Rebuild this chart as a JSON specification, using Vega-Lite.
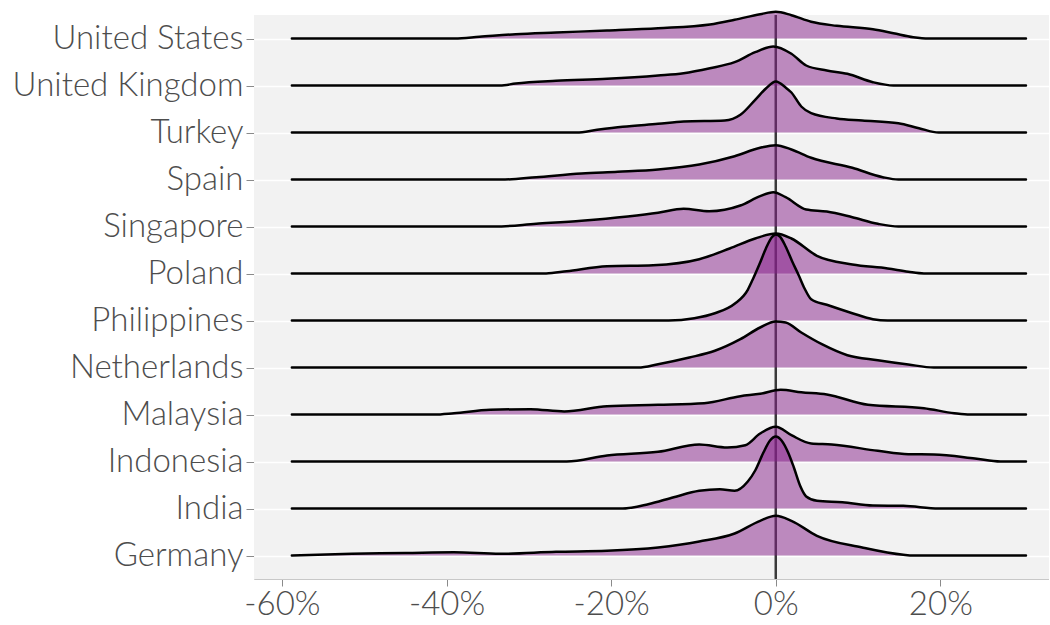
{
  "$schema": "https://vega.github.io/schema/vega-lite/v6.json",
  "bounds": "flush",
  "padding": {"left": 12, "top": 6, "right": 0, "bottom": 0},
  "datasets": {
    "ridges": [
      {"country": "United States", "x": -58.8, "d": 0}, {"country": "United States", "x": -39, "d": 0}, {"country": "United States", "x": -36, "d": 0.017}, {"country": "United States", "x": -31.6, "d": 0.043}, {"country": "United States", "x": -26.7, "d": 0.06}, {"country": "United States", "x": -20.5, "d": 0.08}, {"country": "United States", "x": -14.3, "d": 0.103}, {"country": "United States", "x": -8, "d": 0.14}, {"country": "United States", "x": -5, "d": 0.187}, {"country": "United States", "x": -1.9, "d": 0.243}, {"country": "United States", "x": 0, "d": 0.267}, {"country": "United States", "x": 1.9, "d": 0.233}, {"country": "United States", "x": 4.3, "d": 0.167}, {"country": "United States", "x": 7.4, "d": 0.127}, {"country": "United States", "x": 11.8, "d": 0.093}, {"country": "United States", "x": 14.3, "d": 0.053}, {"country": "United States", "x": 16.7, "d": 0.013}, {"country": "United States", "x": 18.6, "d": 0}, {"country": "United States", "x": 30.4, "d": 0},
      {"country": "United Kingdom", "x": -58.8, "d": 0}, {"country": "United Kingdom", "x": -33.5, "d": 0}, {"country": "United Kingdom", "x": -31.6, "d": 0.02}, {"country": "United Kingdom", "x": -26.7, "d": 0.047}, {"country": "United Kingdom", "x": -20.5, "d": 0.067}, {"country": "United Kingdom", "x": -14.3, "d": 0.1}, {"country": "United Kingdom", "x": -11.2, "d": 0.123}, {"country": "United Kingdom", "x": -8, "d": 0.173}, {"country": "United Kingdom", "x": -5, "d": 0.233}, {"country": "United Kingdom", "x": -2.5, "d": 0.333}, {"country": "United Kingdom", "x": -0.3, "d": 0.39}, {"country": "United Kingdom", "x": 1.9, "d": 0.317}, {"country": "United Kingdom", "x": 3.7, "d": 0.2}, {"country": "United Kingdom", "x": 6.2, "d": 0.15}, {"country": "United Kingdom", "x": 8.7, "d": 0.117}, {"country": "United Kingdom", "x": 11.8, "d": 0.033}, {"country": "United Kingdom", "x": 14.3, "d": 0}, {"country": "United Kingdom", "x": 30.4, "d": 0},
      {"country": "Turkey", "x": -58.8, "d": 0}, {"country": "Turkey", "x": -24.2, "d": 0}, {"country": "Turkey", "x": -21.7, "d": 0.027}, {"country": "Turkey", "x": -18.6, "d": 0.057}, {"country": "Turkey", "x": -14.3, "d": 0.087}, {"country": "Turkey", "x": -11.2, "d": 0.11}, {"country": "Turkey", "x": -6.2, "d": 0.12}, {"country": "Turkey", "x": -4.3, "d": 0.177}, {"country": "Turkey", "x": -2.5, "d": 0.327}, {"country": "Turkey", "x": -1.2, "d": 0.44}, {"country": "Turkey", "x": 0, "d": 0.51}, {"country": "Turkey", "x": 1.2, "d": 0.45}, {"country": "Turkey", "x": 1.9, "d": 0.4}, {"country": "Turkey", "x": 3.1, "d": 0.26}, {"country": "Turkey", "x": 4.3, "d": 0.193}, {"country": "Turkey", "x": 7.4, "d": 0.14}, {"country": "Turkey", "x": 10.5, "d": 0.12}, {"country": "Turkey", "x": 14.9, "d": 0.093}, {"country": "Turkey", "x": 17.4, "d": 0.043}, {"country": "Turkey", "x": 19.8, "d": 0}, {"country": "Turkey", "x": 30.4, "d": 0},
      {"country": "Spain", "x": -58.8, "d": 0}, {"country": "Spain", "x": -32.9, "d": 0}, {"country": "Spain", "x": -29.1, "d": 0.023}, {"country": "Spain", "x": -23.6, "d": 0.06}, {"country": "Spain", "x": -19.2, "d": 0.077}, {"country": "Spain", "x": -14.3, "d": 0.1}, {"country": "Spain", "x": -9.3, "d": 0.15}, {"country": "Spain", "x": -5, "d": 0.233}, {"country": "Spain", "x": -1.9, "d": 0.317}, {"country": "Spain", "x": 0, "d": 0.343}, {"country": "Spain", "x": 1.9, "d": 0.3}, {"country": "Spain", "x": 4.3, "d": 0.217}, {"country": "Spain", "x": 9.3, "d": 0.117}, {"country": "Spain", "x": 13, "d": 0.023}, {"country": "Spain", "x": 14.9, "d": 0}, {"country": "Spain", "x": 30.4, "d": 0},
      {"country": "Singapore", "x": -58.8, "d": 0}, {"country": "Singapore", "x": -34.1, "d": 0}, {"country": "Singapore", "x": -29.1, "d": 0.027}, {"country": "Singapore", "x": -23.6, "d": 0.057}, {"country": "Singapore", "x": -18, "d": 0.1}, {"country": "Singapore", "x": -14.3, "d": 0.137}, {"country": "Singapore", "x": -11.2, "d": 0.177}, {"country": "Singapore", "x": -8.1, "d": 0.153}, {"country": "Singapore", "x": -4.3, "d": 0.21}, {"country": "Singapore", "x": -1.9, "d": 0.303}, {"country": "Singapore", "x": -0.3, "d": 0.343}, {"country": "Singapore", "x": 1.2, "d": 0.293}, {"country": "Singapore", "x": 3.7, "d": 0.17}, {"country": "Singapore", "x": 6.2, "d": 0.15}, {"country": "Singapore", "x": 9.3, "d": 0.093}, {"country": "Singapore", "x": 12.4, "d": 0.027}, {"country": "Singapore", "x": 14.9, "d": 0}, {"country": "Singapore", "x": 30.4, "d": 0},
      {"country": "Poland", "x": -58.8, "d": 0}, {"country": "Poland", "x": -27.9, "d": 0}, {"country": "Poland", "x": -25.4, "d": 0.023}, {"country": "Poland", "x": -20.5, "d": 0.073}, {"country": "Poland", "x": -14.9, "d": 0.083}, {"country": "Poland", "x": -9.3, "d": 0.143}, {"country": "Poland", "x": -5.6, "d": 0.25}, {"country": "Poland", "x": -2.5, "d": 0.35}, {"country": "Poland", "x": 0, "d": 0.4}, {"country": "Poland", "x": 1.9, "d": 0.35}, {"country": "Poland", "x": 5, "d": 0.177}, {"country": "Poland", "x": 9.3, "d": 0.09}, {"country": "Poland", "x": 13.6, "d": 0.05}, {"country": "Poland", "x": 16.1, "d": 0.017}, {"country": "Poland", "x": 18, "d": 0}, {"country": "Poland", "x": 30.4, "d": 0},
      {"country": "Philippines", "x": -58.8, "d": 0}, {"country": "Philippines", "x": -13, "d": 0}, {"country": "Philippines", "x": -9.9, "d": 0.023}, {"country": "Philippines", "x": -7.4, "d": 0.073}, {"country": "Philippines", "x": -5, "d": 0.167}, {"country": "Philippines", "x": -3.4, "d": 0.307}, {"country": "Philippines", "x": -2.8, "d": 0.41}, {"country": "Philippines", "x": -2, "d": 0.56}, {"country": "Philippines", "x": -1.2, "d": 0.72}, {"country": "Philippines", "x": -0.5, "d": 0.83}, {"country": "Philippines", "x": 0, "d": 0.86}, {"country": "Philippines", "x": 0.5, "d": 0.84}, {"country": "Philippines", "x": 1.2, "d": 0.74}, {"country": "Philippines", "x": 2, "d": 0.59}, {"country": "Philippines", "x": 2.8, "d": 0.45}, {"country": "Philippines", "x": 3.5, "d": 0.32}, {"country": "Philippines", "x": 4.3, "d": 0.213}, {"country": "Philippines", "x": 6.2, "d": 0.157}, {"country": "Philippines", "x": 9.3, "d": 0.073}, {"country": "Philippines", "x": 11.8, "d": 0.013}, {"country": "Philippines", "x": 13.6, "d": 0}, {"country": "Philippines", "x": 30.4, "d": 0},
      {"country": "Netherlands", "x": -58.8, "d": 0}, {"country": "Netherlands", "x": -16.7, "d": 0}, {"country": "Netherlands", "x": -14.3, "d": 0.033}, {"country": "Netherlands", "x": -10.5, "d": 0.1}, {"country": "Netherlands", "x": -7.4, "d": 0.167}, {"country": "Netherlands", "x": -4.3, "d": 0.283}, {"country": "Netherlands", "x": -1.9, "d": 0.4}, {"country": "Netherlands", "x": 0, "d": 0.46}, {"country": "Netherlands", "x": 1.2, "d": 0.45}, {"country": "Netherlands", "x": 3.1, "d": 0.35}, {"country": "Netherlands", "x": 5.6, "d": 0.233}, {"country": "Netherlands", "x": 8.7, "d": 0.123}, {"country": "Netherlands", "x": 12.4, "d": 0.073}, {"country": "Netherlands", "x": 16.1, "d": 0.03}, {"country": "Netherlands", "x": 19.2, "d": 0}, {"country": "Netherlands", "x": 30.4, "d": 0},
      {"country": "Malaysia", "x": -58.8, "d": 0}, {"country": "Malaysia", "x": -41.5, "d": 0}, {"country": "Malaysia", "x": -39.1, "d": 0.013}, {"country": "Malaysia", "x": -34.7, "d": 0.047}, {"country": "Malaysia", "x": -29.8, "d": 0.053}, {"country": "Malaysia", "x": -25.7, "d": 0.03}, {"country": "Malaysia", "x": -20.5, "d": 0.083}, {"country": "Malaysia", "x": -14.3, "d": 0.097}, {"country": "Malaysia", "x": -8.7, "d": 0.113}, {"country": "Malaysia", "x": -4.3, "d": 0.183}, {"country": "Malaysia", "x": -1.9, "d": 0.207}, {"country": "Malaysia", "x": 0.6, "d": 0.247}, {"country": "Malaysia", "x": 3.1, "d": 0.223}, {"country": "Malaysia", "x": 6.2, "d": 0.2}, {"country": "Malaysia", "x": 11.2, "d": 0.097}, {"country": "Malaysia", "x": 18, "d": 0.063}, {"country": "Malaysia", "x": 21.7, "d": 0.013}, {"country": "Malaysia", "x": 23.6, "d": 0}, {"country": "Malaysia", "x": 30.4, "d": 0},
      {"country": "Indonesia", "x": -58.8, "d": 0}, {"country": "Indonesia", "x": -25.4, "d": 0}, {"country": "Indonesia", "x": -20.5, "d": 0.06}, {"country": "Indonesia", "x": -14.3, "d": 0.097}, {"country": "Indonesia", "x": -9.3, "d": 0.17}, {"country": "Indonesia", "x": -5.9, "d": 0.14}, {"country": "Indonesia", "x": -3.7, "d": 0.163}, {"country": "Indonesia", "x": -1.9, "d": 0.28}, {"country": "Indonesia", "x": 0, "d": 0.347}, {"country": "Indonesia", "x": 1.9, "d": 0.263}, {"country": "Indonesia", "x": 4.3, "d": 0.18}, {"country": "Indonesia", "x": 6.8, "d": 0.17}, {"country": "Indonesia", "x": 12.4, "d": 0.107}, {"country": "Indonesia", "x": 16.1, "d": 0.073}, {"country": "Indonesia", "x": 19.2, "d": 0.07}, {"country": "Indonesia", "x": 24.2, "d": 0.03}, {"country": "Indonesia", "x": 27.3, "d": 0}, {"country": "Indonesia", "x": 30.4, "d": 0},
      {"country": "India", "x": -58.8, "d": 0}, {"country": "India", "x": -18.6, "d": 0}, {"country": "India", "x": -15.5, "d": 0.043}, {"country": "India", "x": -12.4, "d": 0.113}, {"country": "India", "x": -9.3, "d": 0.177}, {"country": "India", "x": -6.8, "d": 0.193}, {"country": "India", "x": -5, "d": 0.177}, {"country": "India", "x": -3.4, "d": 0.27}, {"country": "India", "x": -2.5, "d": 0.38}, {"country": "India", "x": -1.5, "d": 0.56}, {"country": "India", "x": -0.7, "d": 0.68}, {"country": "India", "x": 0, "d": 0.72}, {"country": "India", "x": 0.7, "d": 0.68}, {"country": "India", "x": 1.5, "d": 0.56}, {"country": "India", "x": 2.2, "d": 0.41}, {"country": "India", "x": 3, "d": 0.22}, {"country": "India", "x": 3.7, "d": 0.12}, {"country": "India", "x": 5, "d": 0.077}, {"country": "India", "x": 8.1, "d": 0.063}, {"country": "India", "x": 11.8, "d": 0.03}, {"country": "India", "x": 15.5, "d": 0.027}, {"country": "India", "x": 19.8, "d": 0}, {"country": "India", "x": 30.4, "d": 0},
      {"country": "Germany", "x": -58.8, "d": 0}, {"country": "Germany", "x": -51.5, "d": 0.017}, {"country": "Germany", "x": -45, "d": 0.025}, {"country": "Germany", "x": -39.1, "d": 0.033}, {"country": "Germany", "x": -33.5, "d": 0.017}, {"country": "Germany", "x": -26.7, "d": 0.037}, {"country": "Germany", "x": -20.5, "d": 0.047}, {"country": "Germany", "x": -14.3, "d": 0.08}, {"country": "Germany", "x": -9.3, "d": 0.14}, {"country": "Germany", "x": -5, "d": 0.22}, {"country": "Germany", "x": -1.9, "d": 0.347}, {"country": "Germany", "x": 0, "d": 0.397}, {"country": "Germany", "x": 1.9, "d": 0.347}, {"country": "Germany", "x": 5, "d": 0.197}, {"country": "Germany", "x": 10.5, "d": 0.08}, {"country": "Germany", "x": 15.5, "d": 0.007}, {"country": "Germany", "x": 16.7, "d": 0}, {"country": "Germany", "x": 30.4, "d": 0}
    ]
  },
  "data": {"name": "ridges"},
  "facet": {
    "row": {
      "field": "country", "type": "nominal", "sort": "descending", "title": null,
      "header": {"labelAngle": 0, "labelAlign": "left", "labelFont": "Lato", "labelFontSize": 33, "labelFontWeight": 300, "labelColor": "#4d4d4d", "labelPadding": 2}
    }
  },
  "spacing": {"row": 0},
  "spec": {
    "width": 795,
    "height": 47,
    "layer": [
      {
        "transform": [{"aggregate": [{"op": "count", "as": "n"}], "groupby": ["country"]}],
        "mark": {"type": "rule", "color": "#3a3a3a", "strokeWidth": 2.5},
        "encoding": {"x": {"datum": 0}}
      },
      {
        "mark": {"type": "area", "interpolate": "monotone", "fill": "#86208a", "fillOpacity": 0.5},
        "encoding": {
          "x": {
            "field": "x", "type": "quantitative",
            "scale": {"domain": [-63.4, 33.2], "nice": false, "zero": false},
            "axis": {
              "title": null,
              "values": [-60, -50, -40, -30, -20, -10, 0, 10, 20, 30],
              "labelExpr": "datum.value % 20 === 0 ? datum.value + '%' : ''",
              "labelFont": "Lato", "labelFontSize": 33, "labelFontWeight": 300, "labelColor": "#4d4d4d",
              "labelPadding": 2, "labelFlush": false, "labelOverlap": false,
              "tickSize": 7, "tickColor": "#8a8a8a",
              "tickOpacity": {"condition": {"test": "datum.value % 20 !== 0", "value": 0}, "value": 1},
              "gridColor": "#ffffff",
              "gridWidth": {"condition": {"test": "datum.value % 20 !== 0", "value": 0.8}, "value": 1.6},
              "domainColor": "#c8c8c8"
            }
          },
          "y": {
            "field": "d", "type": "quantitative",
            "scale": {"domain": [-0.235, 0.235], "nice": false, "zero": false},
            "axis": {"title": null, "values": [0], "labels": false, "tickSize": 8, "tickColor": "#8a8a8a", "gridColor": "#ffffff", "gridWidth": 1.5, "domainColor": "#c8c8c8"}
          },
          "y2": {"datum": 0}
        }
      },
      {
        "mark": {"type": "line", "interpolate": "monotone", "color": "black", "strokeWidth": 2.5, "strokeCap": "round"},
        "encoding": {
          "x": {"field": "x", "type": "quantitative"},
          "y": {"field": "d", "type": "quantitative"}
        }
      }
    ]
  },
  "config": {
    "font": "Lato",
    "view": {"fill": "#f2f2f2", "stroke": null}
  }
}
